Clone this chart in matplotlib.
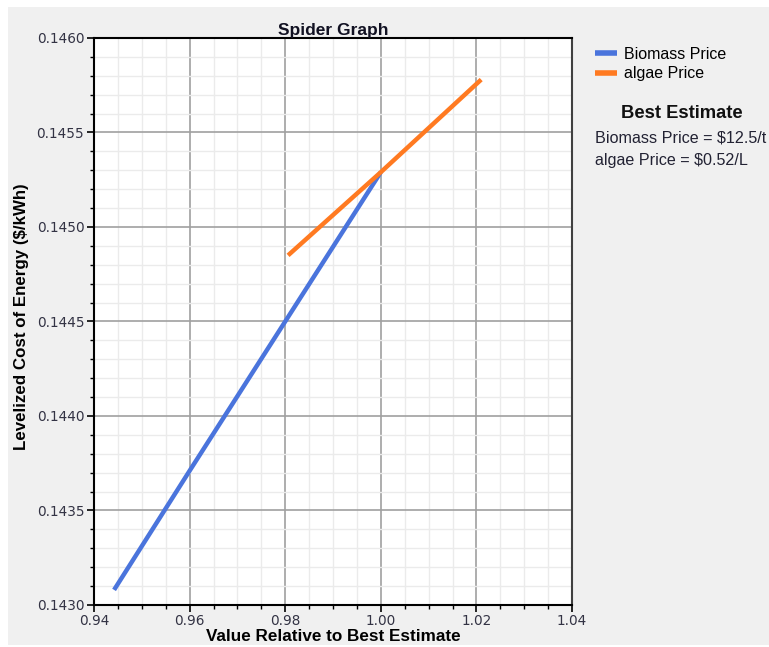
import matplotlib
matplotlib.use("Agg")
import matplotlib.pyplot as plt
from matplotlib.patches import Rectangle
from matplotlib.ticker import MultipleLocator, FormatStrFormatter

# Data
biomass_x = [0.9442, 0.96, 0.98, 1.00]
biomass_y = [0.14308, 0.14371, 0.14450, 0.14529]
algae_x = [0.9806, 1.00, 1.021]
algae_y = [0.14485, 0.14529, 0.14578]
series_names = ["Biomass Price", "algae Price"]
best_estimate = ["Biomass Price = $12.5/t", "algae Price = $0.52/L"]

fig = plt.figure(figsize=(7.69, 6.47), dpi=100, facecolor="white")
fig.patches.append(Rectangle((8 / 769, 2 / 647), 1 - 8 / 769, 1 - 9 / 647,
                             transform=fig.transFigure, facecolor="#f0f0f0",
                             edgecolor="none", zorder=-10))

ax = fig.add_axes([94 / 769, 1 - 605 / 647, 478 / 769, 567 / 647])
ax.set_zorder(1)
ax.set_facecolor("white")

blue = "#4a74dc"
orange = "#ff7a21"
ax.plot(biomass_x, biomass_y, color=blue, lw=3.2, solid_capstyle="butt", label=series_names[0], zorder=3)
ax.plot(algae_x, algae_y, color=orange, lw=3.2, solid_capstyle="butt", label=series_names[1], zorder=3)

ax.set_xlim(0.94, 1.04)
ax.set_ylim(0.1430, 0.1460)
ax.xaxis.set_major_locator(MultipleLocator(0.02))
ax.xaxis.set_minor_locator(MultipleLocator(0.005))
ax.yaxis.set_major_locator(MultipleLocator(0.0005))
ax.yaxis.set_minor_locator(MultipleLocator(0.0001))
ax.xaxis.set_major_formatter(FormatStrFormatter("%.2f"))
ax.yaxis.set_major_formatter(FormatStrFormatter("%.4f"))

ax.grid(which="major", color="#a0a0a0", lw=1.2, zorder=1)
ax.grid(which="minor", color="#ebebeb", lw=1.0, zorder=0.5)
ax.set_axisbelow(True)

for side in ["left", "bottom", "top"]:
    ax.spines[side].set_color("black")
    ax.spines[side].set_linewidth(1.5)
ax.spines["right"].set_color("#404040")
ax.spines["right"].set_linewidth(1.5)

ax.tick_params(which="major", direction="out", length=5, width=1.2, color="black",
               labelsize=9.8, labelcolor="#333344", top=False, right=False)
ax.tick_params(axis="x", which="major", pad=1.5)
ax.tick_params(axis="y", which="major", pad=2)
ax.tick_params(which="minor", direction="out", length=3, width=1.0, color="black",
               top=False, right=False)
for lab in ax.get_xticklabels() + ax.get_yticklabels():
    lab.set_family("DejaVu Sans")

ax.set_title("Spider Graph", fontsize=12.5, fontweight="bold", family="Liberation Sans",
             color="#111122", pad=2)
ax.set_xlabel("Value Relative to Best Estimate", fontsize=12.3, fontweight="bold",
              family="Liberation Sans", labelpad=1)
fig.text(22 / 769, 1 - 317 / 647, "Levelized Cost of Energy (\\$/kWh)", rotation=90,
         ha="center", va="center", fontsize=12.2, fontweight="bold", family="Liberation Sans")

leg = ax.legend(loc="upper left", bbox_to_anchor=(1.035, 0.996), frameon=False,
                prop={"family": "Liberation Sans", "size": 11.5}, handlelength=1.4,
                handletextpad=0.4, labelspacing=0.28, borderaxespad=0)
for lh in leg.get_lines():
    lh.set_linewidth(4)

fig.text(682 / 769, 1 - 113 / 647, "Best Estimate", ha="center", va="center",
         fontsize=13.2, fontweight="bold", family="Liberation Sans", color="#111111")
fig.text(595 / 769, 1 - 138 / 647, best_estimate[0].replace("$", "\\$"), ha="left", va="center",
         fontsize=11.6, family="Liberation Sans", color="#222233")
fig.text(595 / 769, 1 - 160 / 647, best_estimate[1].replace("$", "\\$"), ha="left", va="center",
         fontsize=11.6, family="Liberation Sans", color="#222233")

fig.savefig("out.png", dpi=100, facecolor=fig.get_facecolor())
